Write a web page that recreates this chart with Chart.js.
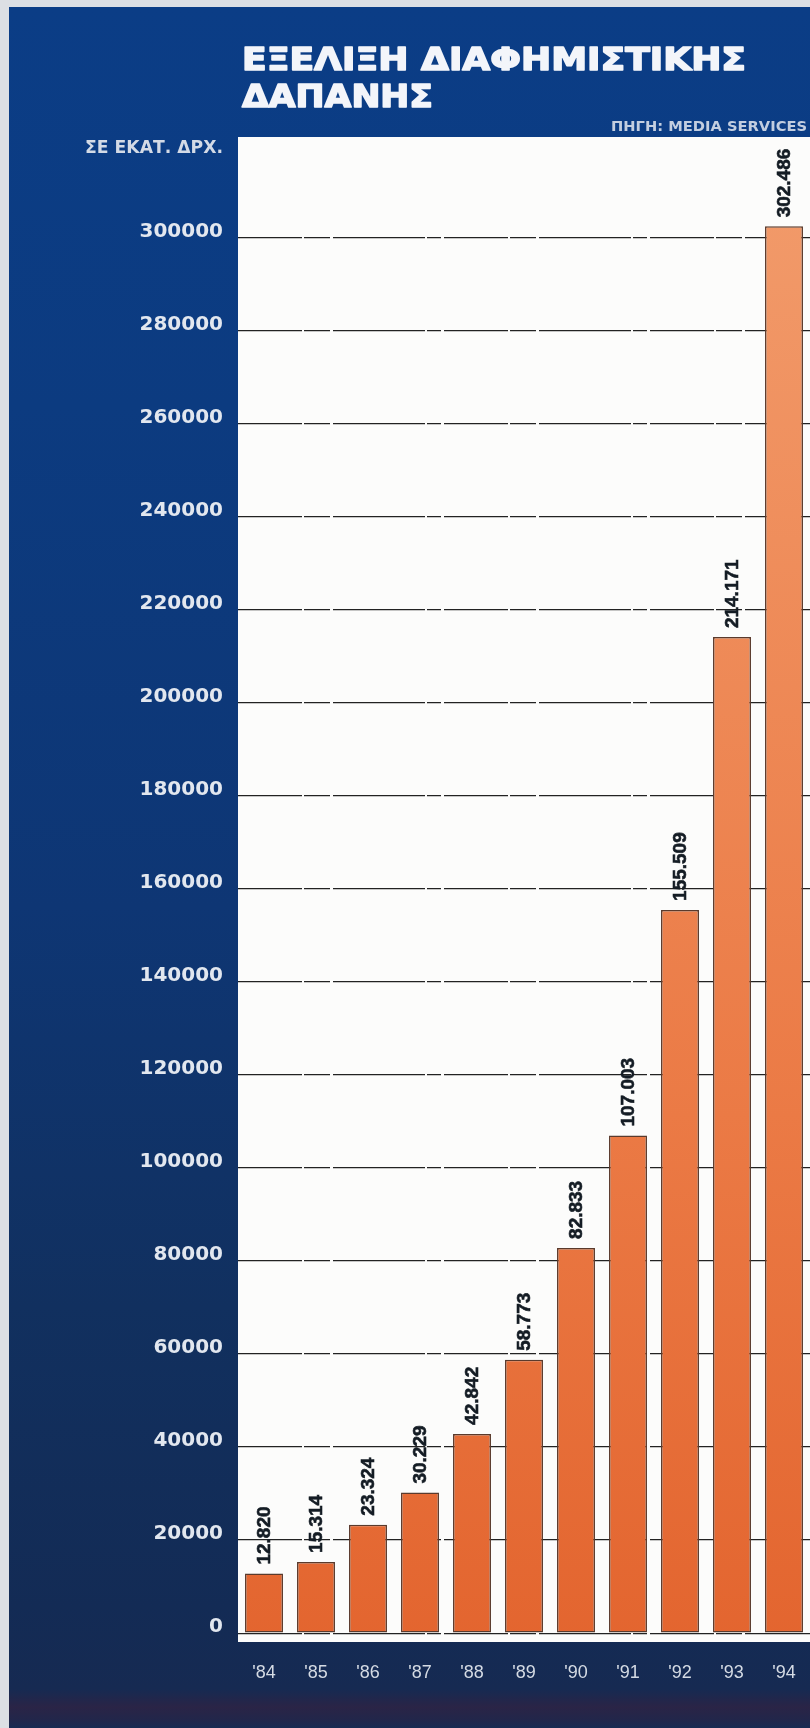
<!DOCTYPE html>
<html lang="el">
<head>
<meta charset="utf-8">
<title>Εξέλιξη διαφημιστικής δαπάνης</title>
<script src="https://cdn.jsdelivr.net/npm/chart.js@4.4.1/dist/chart.umd.min.js"></script>
<style>
  html, body { margin: 0; padding: 0; background: #dcdfe4; }
  #wrap { position: relative; width: 810px; height: 1728px; overflow: hidden; }
  #panel {
    position: absolute; left: 9px; top: 7px; right: 0; bottom: 0;
    background: linear-gradient(to bottom,
      #0b3d86 0px, #0c3b80 400px, #0e3674 900px, #11305f 1300px,
      #132b55 1600px, #162a52 1682px, #2a2446 1700px, #22264a 1712px, #172a52 1721px);
  }
  canvas { position: absolute; left: 0; top: 0; }
</style>
</head>
<body>
<div id="wrap">
  <div id="panel"></div>
  <canvas id="chart" width="810" height="1728"></canvas>
</div>
<script>
// Advertising spend per year, millions of drachmas
const years = ["'84", "'85", "'86", "'87", "'88", "'89", "'90", "'91", "'92", "'93", "'94"];
const spend = [12820, 15314, 23324, 30229, 42842, 58773, 82833, 107003, 155509, 214171, 302486];
const yTicks = [0, 20000, 40000, 60000, 80000, 100000, 120000, 140000, 160000,
                180000, 200000, 220000, 240000, 260000, 280000, 300000];

const titleLines = ['ΕΞΕΛΙΞΗ ΔΙΑΦΗΜΙΣΤΙΚΗΣ', 'ΔΑΠΑΝΗΣ'];
const sourceText = 'ΠΗΓΗ: MEDIA SERVICES';
const unitText = 'ΣΕ ΕΚΑΤ. ΔΡΧ.';

// 12820 -> "12.820"
function grouped(v) {
  return String(v).replace(/\B(?=(\d{3})+(?!\d))/g, '.');
}

// draw text stretched/condensed horizontally to a given width,
// optionally thickened with a stroke in the same colour
function fitText(ctx, text, x, y, width, align, weightPx) {
  const w = ctx.measureText(text).width;
  const s = width / w;
  ctx.save();
  ctx.translate(x, y);
  ctx.scale(s, 1);
  ctx.textAlign = 'left';
  const tx = align === 'right' ? -w : 0;
  ctx.fillText(text, tx, 0);
  if (weightPx) {
    ctx.strokeStyle = ctx.fillStyle;
    ctx.lineWidth = weightPx;
    ctx.lineJoin = 'round';
    ctx.strokeText(text, tx, 0);
  }
  ctx.restore();
}

const plotBackground = {
  id: 'plotBackground',
  beforeDraw(chart) {
    const { ctx, chartArea: a } = chart;
    ctx.save();
    ctx.fillStyle = '#fcfcfb';
    ctx.fillRect(a.left, a.top, a.right - a.left, a.bottom - a.top);
    ctx.restore();
  }
};

const headerText = {
  id: 'headerText',
  afterDraw(chart) {
    const ctx = chart.ctx;
    ctx.save();
    ctx.textBaseline = 'alphabetic';
    ctx.fillStyle = '#f3f5fa';
    ctx.font = 'bold 32px "DejaVu Sans"';
    fitText(ctx, titleLines[0], 242, 70, 504, 'left', 1.6);
    fitText(ctx, titleLines[1], 242, 107, 191, 'left', 1.6);
    ctx.fillStyle = '#c3cee0';
    ctx.font = 'bold 14px "DejaVu Sans"';
    fitText(ctx, sourceText, 807, 131, 196, 'right');
    ctx.fillStyle = '#d3dae6';
    ctx.font = 'bold 17px "DejaVu Sans"';
    fitText(ctx, unitText, 223, 153, 138, 'right');
    ctx.restore();
  }
};

const valueLabels = {
  id: 'valueLabels',
  afterDatasetsDraw(chart) {
    const ctx = chart.ctx;
    const meta = chart.getDatasetMeta(0);
    ctx.save();
    ctx.fillStyle = '#141c24';
    ctx.strokeStyle = '#141c24';
    ctx.lineWidth = 0.6;
    ctx.font = 'bold 19px "Liberation Sans", Arial, sans-serif';
    ctx.textAlign = 'left';
    ctx.textBaseline = 'middle';
    meta.data.forEach((bar, i) => {
      ctx.save();
      ctx.translate(bar.x + 1, bar.y - 9);
      ctx.rotate(-Math.PI / 2);
      ctx.fillText(grouped(spend[i]), 0, 0);
      ctx.strokeText(grouped(spend[i]), 0, 0);
      ctx.restore();
    });
    ctx.restore();
  }
};

new Chart(document.getElementById('chart'), {
  type: 'bar',
  data: {
    labels: years,
    datasets: [{
      data: spend,
      backgroundColor(c) {
        const { ctx, chartArea } = c.chart;
        if (!chartArea) return '#ea7a44';
        const g = ctx.createLinearGradient(0, chartArea.bottom, 0, chartArea.top);
        g.addColorStop(0, '#e3652f');
        g.addColorStop(0.35, '#eb7a45');
        g.addColorStop(1, '#f29c6c');
        return g;
      },
      borderColor: '#5a3a2c',
      borderWidth: 1.5,
      borderSkipped: false,
      categoryPercentage: 1,
      barPercentage: 0.73
    }]
  },
  options: {
    responsive: false,
    animation: false,
    devicePixelRatio: 1,
    layout: { padding: { top: 137, left: 0, right: 0, bottom: 0 } },
    plugins: { legend: { display: false }, tooltip: { enabled: false } },
    scales: {
      x: {
        grid: { display: false },
        border: { display: false },
        ticks: {
          color: '#d5dbe4',
          font: { family: '"Liberation Sans", Arial, sans-serif', size: 18 },
          padding: 12,
          maxRotation: 0
        },
        afterFit(s) { s.height = 86; }
      },
      y: {
        min: -1900,
        max: 321700,
        afterBuildTicks(s) { s.ticks = yTicks.map(v => ({ value: v })); },
        afterFit(s) { s.width = 238; },
        grid: { color: '#222222', lineWidth: 1.3, drawTicks: false },
        border: { display: false, dash: [64, 2, 26, 3, 92, 2, 14, 3] },
        ticks: {
          color: '#e2e7ef',
          font: { family: '"DejaVu Sans"', size: 20, weight: 'bold' },
          padding: 15,
          labelOffset: -6,
          callback: v => String(v)
        }
      }
    }
  },
  plugins: [plotBackground, valueLabels, headerText]
});
</script>
</body>
</html>
